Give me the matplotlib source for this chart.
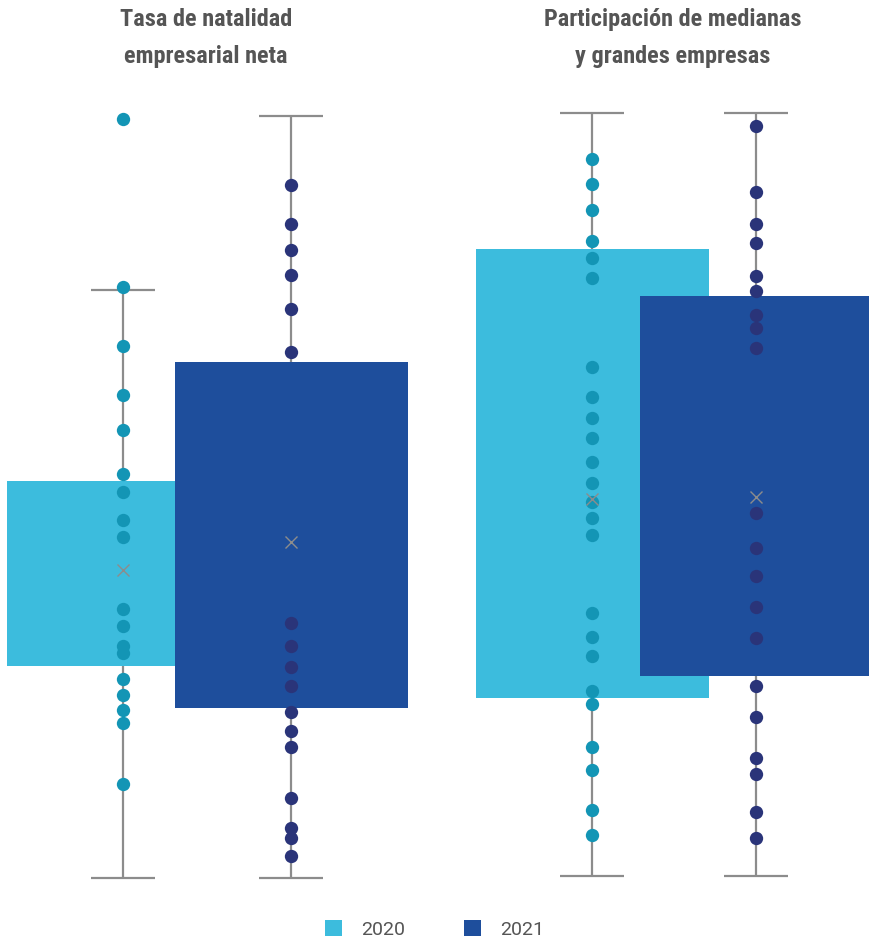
import matplotlib.pyplot as plt
from matplotlib.patches import Patch

# -----------------------------
# DATA
# -----------------------------
years = ["2020", "2021"]

titles = [
    ["Tasa de natalidad", "empresarial neta"],
    ["Participación de medianas", "y grandes empresas"],
]

natalidad_2020 = [76.1, 59.3, 53.4, 48.5, 45.0, 40.6, 38.8, 36.0, 34.3, 27.1,
                  25.4, 23.4, 22.7, 20.1, 18.5, 17.0, 15.7, 9.6]
natalidad_2021 = [69.5, 65.6, 63.0, 60.5, 57.1, 52.8, 25.7, 23.4, 21.3, 19.4,
                  16.8, 14.9, 13.3, 8.2, 5.2, 4.2, 2.4]
natalidad_q1 = [21.4, 17.2]
natalidad_q3 = [39.9, 51.8]
natalidad_min = [0.2, 0.2]
natalidad_max = [59.0, 76.4]
natalidad_mean = [31.0, 33.8]

medianas_2020 = [72.1, 69.6, 67.0, 63.9, 62.2, 60.2, 51.3, 48.3, 46.2, 44.2,
                 41.8, 39.7, 37.8, 36.2, 34.5, 26.7, 24.3, 22.4, 18.9, 17.6,
                 13.3, 11.0, 7.0, 4.5]
medianas_2021 = [75.4, 68.8, 65.6, 63.7, 60.4, 58.9, 56.5, 55.2, 53.2, 36.7,
                 33.2, 30.4, 27.3, 24.2, 19.4, 16.3, 12.2, 10.6, 6.8, 4.2]
medianas_q1 = [18.2, 20.4]
medianas_q3 = [63.1, 58.4]
medianas_min = [0.4, 0.4]
medianas_max = [76.7, 76.7]
medianas_mean = [38.1, 38.3]

# -----------------------------
# STYLE / LAYOUT
# -----------------------------
W, H = 869, 939
box_colors = ["#3CBCDD", "#1E4E9C"]
dot_colors = ["#1395B5", "#2A3479"]
grey = "#8C8C8C"
text_color = "#555555"
title_font = ["Roboto Condensed", "Liberation Sans Narrow", "DejaVu Sans"]
legend_font = ["Roboto", "DejaVu Sans"]

Y_LIMS = (-5.9, 88.0)
BOX_PX = 233
CAP_PX = 64


def draw_panel(fig, left_px, right_px, first_px, step_px, pts, q1, q3, lo, hi, means):
    ax = fig.add_axes([left_px / W, 0, (right_px - left_px) / W, 1])
    ax.set_xlim(-(first_px - left_px) / step_px, (right_px - first_px) / step_px)
    ax.set_ylim(*Y_LIMS)
    ax.axis("off")

    box_w = BOX_PX / step_px
    cap_w = CAP_PX / step_px

    for i in range(len(pts)):
        ax.vlines(i, lo[i], hi[i], color=grey, lw=1.6, zorder=1)
        ax.hlines([lo[i], hi[i]], i - cap_w / 2, i + cap_w / 2,
                  color=grey, lw=1.6, zorder=1)
        ax.bar(i, q3[i] - q1[i], bottom=q1[i], width=box_w,
               color=box_colors[i], zorder=2)
        ax.scatter([i] * len(pts[i]), pts[i], s=92, color=dot_colors[i],
                   linewidths=0, zorder=3)
        ax.plot(i, means[i], marker="x", ms=9, mew=1, color=grey, zorder=4)
    return ax


fig = plt.figure(figsize=(W / 100, H / 100), dpi=100)

draw_panel(fig, 0, 434.5, 123, 168,
           [natalidad_2020, natalidad_2021],
           natalidad_q1, natalidad_q3, natalidad_min, natalidad_max, natalidad_mean)
draw_panel(fig, 434.5, 869, 592, 164,
           [medianas_2020, medianas_2021],
           medianas_q1, medianas_q3, medianas_min, medianas_max, medianas_mean)

# titles
for cx, lines in zip([206, 673], titles):
    for base, line in zip([26, 63], lines):
        fig.text(cx / W, 1 - base / H, line, ha="center", va="baseline",
                 fontsize=17.5, fontweight="bold", color=text_color,
                 family=title_font)

# legend
handles = [Patch(facecolor=c, edgecolor="none", label=y)
           for c, y in zip(box_colors, years)]
fig.legend(handles=handles, loc="center", bbox_to_anchor=(0.5, 9.5 / H),
           ncol=2, frameon=False, handlelength=0.88,
           handleheight=0.88, handletextpad=1.0, columnspacing=3.0,
           borderpad=0, prop={"family": legend_font, "size": 14},
           labelcolor=text_color)

fig.savefig("out.png", dpi=100)
